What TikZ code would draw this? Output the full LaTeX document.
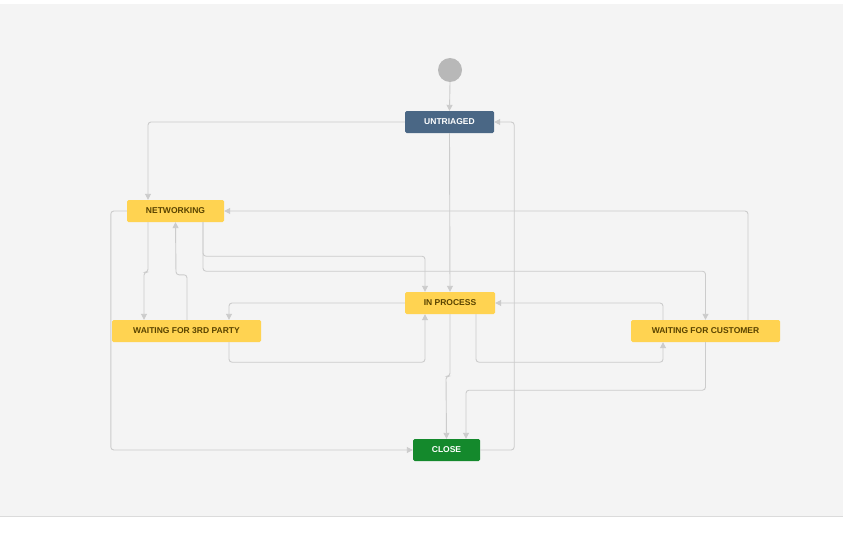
\documentclass[tikz,border=0pt]{standalone}
\usepackage{fontspec}
\setmainfont{Liberation Sans}
\usetikzlibrary{arrows.meta}
\definecolor{bgGray}{HTML}{F4F4F4}
\definecolor{lineGray}{HTML}{CCCCCC}
\definecolor{blueSt}{HTML}{4A6785}
\definecolor{yellowSt}{HTML}{FFD351}
\definecolor{greenSt}{HTML}{14892C}
\definecolor{darkText}{HTML}{594300}
\tikzset{
  state/.style={rounded corners=1.5pt, inner sep=0pt, minimum height=22pt, font=\fontsize{8.5}{10}\selectfont\bfseries},
  todo/.style={state, fill=blueSt, text=white},
  inprog/.style={state, fill=yellowSt, text=darkText},
  done/.style={state, fill=greenSt, text=white},
  trans/.style={draw=lineGray, line width=0.9pt, rounded corners=3pt, -{Triangle[length=6pt,width=6pt,fill=lineGray]}}
}
\begin{document}
\begin{tikzpicture}[x=1pt,y=-1pt]
  \useasboundingbox (0,0) rectangle (843,543);
  \fill[bgGray] (0,4) rectangle (843,516);
  \draw[lineGray!70,line width=0.6pt] (0,516) -- (843,516); % bottom line
  % states
  \node[circle, fill=lineGray!90!black, minimum size=24pt, inner sep=0pt] (start) at (450,70) {};
  \node[todo, minimum width=89pt] (untriaged) at (449.5,122) {UNTRIAGED};
  \node[inprog, minimum width=97pt] (networking) at (175.5,211) {NETWORKING};
  \node[inprog, minimum width=149pt] (thirdparty) at (186.5,331) {WAITING FOR 3RD PARTY};
  \node[inprog, minimum width=90pt] (inprocess) at (450,303) {IN PROCESS};
  \node[inprog, minimum width=149pt] (customer) at (705.5,331) {WAITING FOR CUSTOMER};
  \node[done, minimum width=67pt] (close) at (446.5,450) {CLOSE};
  % transitions
  \draw[trans] (start.south) -- (untriaged.north);
  \draw[trans] (untriaged.west) -| ([xshift=-27.5pt]networking.north);
  \draw[trans] (untriaged.south) -- (inprocess.north);
  \draw[trans] (close.east) -- ++(34,0) |- (untriaged.east);
  \draw[trans] ([xshift=-27.5pt]networking.south) -- ++(0,50) -- ++(-4,0) -- ([xshift=-42.5pt]thirdparty.north);
  \draw[trans] ([xshift=0.5pt]thirdparty.north) -- ++(0,-45) -- ++(-11,0) -- (networking.south);
  \draw[trans] ([xshift=27.5pt]networking.south) -- ++(0,34) -| ([xshift=-25pt]inprocess.north);
  \draw[trans] ([xshift=27.5pt]networking.south) -- ++(0,49) -| (customer.north);
  \draw[trans] (networking.west) -- ++(-16,0) |- (close.west);
  \draw[trans] ([xshift=42.5pt]customer.north) |- (networking.east);
  \draw[trans] (inprocess.west) -| ([xshift=42.5pt]thirdparty.north);
  \draw[trans] ([xshift=42.5pt]thirdparty.south) -- ++(0,20) -| ([xshift=-25pt]inprocess.south);
  \draw[trans] ([xshift=26pt]inprocess.south) -- ++(0,48) -| ([xshift=-42.5pt]customer.south);
  \draw[trans] ([xshift=-42.5pt]customer.north) |- (inprocess.east);
  \draw[trans] (inprocess.south) -- ++(0,62) -- ++(-4,0) -- (close.north);
  \draw[trans] (customer.south) -- ++(0,48) -| ([xshift=19.5pt]close.north);
\end{tikzpicture}
\end{document}
